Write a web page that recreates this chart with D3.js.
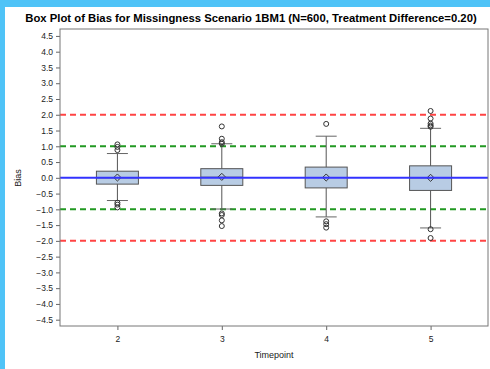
<!DOCTYPE html>
<html>
<head>
<meta charset="utf-8">
<script src="https://cdn.jsdelivr.net/npm/d3@7"></script>
<style>
  html, body { margin: 0; padding: 0; background: #4fc3f7; }
  #container { width: 490px; height: 369px; overflow: hidden; }
  svg { display: block; }
</style>
</head>
<body>
<div id="container"></div>
<script>
/* DATA */
const timepoints = [2, 3, 4, 5];
const q1 = [-0.20, -0.24, -0.32, -0.40];
const medians = [0.00, 0.02, 0.01, 0.00];
const q3 = [0.21, 0.29, 0.34, 0.38];
const means = [0.01, 0.03, 0.01, 0.00];
const whiskerLow = [-0.72, -0.99, -1.24, -1.59];
const whiskerHigh = [0.77, 1.08, 1.32, 1.57];
const outliers = [
  [1.06, 0.98, 0.88, -0.79, -0.85, -0.94],
  [1.63, 1.24, 1.13, 1.08, -1.13, -1.18, -1.35, -1.53],
  [1.71, -1.38, -1.47, -1.58],
  [2.12, 1.88, 1.72, 1.66, 1.62, -1.63, -1.91]
];
const yTicks = [4.5, 4.0, 3.5, 3.0, 2.5, 2.0, 1.5, 1.0, 0.5, 0.0, -0.5, -1.0, -1.5, -2.0, -2.5, -3.0, -3.5, -4.0, -4.5];
const refLines = [
  { value: 2, color: "#ff4444", dash: "6,4" },
  { value: -2, color: "#ff4444", dash: "6,4" },
  { value: 1, color: "#229922", dash: "6,4" },
  { value: -1, color: "#229922", dash: "6,4" }
];

/* CONSTANTS */
const width = 490,
  height = 369,
  margin = { top: 29, bottom: 43, left: 60, right: 2 },
  boxWidth = 42,
  font = "Liberation Sans, Arial, sans-serif";

const svg = d3.select("#container")
  .append("svg")
  .attr("width", width)
  .attr("height", height);

// white page with blue strip on top/left
svg.append("rect")
  .attr("x", 5).attr("y", 7)
  .attr("width", width - 5).attr("height", height - 7)
  .attr("fill", "white");

// + SCALES
const xScale = d3.scaleLinear()
  .domain([1.45, 5.55])
  .range([margin.left, width - margin.right]);

const yScale = d3.scaleLinear()
  .domain([-4.7, 4.72])
  .range([height - margin.bottom, margin.top]);

// title
svg.append("text")
  .attr("x", 251)
  .attr("y", 22)
  .attr("text-anchor", "middle")
  .attr("font-family", font)
  .attr("font-weight", "bold")
  .attr("font-size", 11.3)
  .attr("fill", "#000")
  .text("Box Plot of Bias for Missingness Scenario 1BM1 (N=600, Treatment Difference=0.20)");

// + AXES
const yAxis = d3.axisLeft(yScale)
  .tickValues(yTicks)
  .tickFormat(d3.format(".1f"))
  .tickSize(4)
  .tickSizeOuter(0);

const xAxis = d3.axisBottom(xScale)
  .tickValues(timepoints)
  .tickFormat(d3.format("d"))
  .tickSize(4)
  .tickSizeOuter(0);

const yG = svg.append("g")
  .attr("transform", `translate(${margin.left},0)`)
  .call(yAxis);

const xG = svg.append("g")
  .attr("transform", `translate(0,${height - margin.bottom})`)
  .call(xAxis);

[yG, xG].forEach(g => {
  g.select(".domain").remove();
  g.selectAll("line").attr("stroke", "#666");
  g.selectAll("text")
    .attr("font-family", font)
    .attr("font-size", 8.5)
    .attr("fill", "#222");
});
xG.selectAll("text").attr("dy", "1.1em");

// reference lines
svg.selectAll("line.ref")
  .data(refLines)
  .join("line")
  .attr("class", "ref")
  .attr("x1", margin.left)
  .attr("x2", width - margin.right)
  .attr("y1", d => yScale(d.value))
  .attr("y2", d => yScale(d.value))
  .attr("stroke", d => d.color)
  .attr("stroke-width", 2)
  .attr("stroke-dasharray", d => d.dash);

// boxes
const boxes = svg.selectAll("g.box")
  .data(timepoints.map((t, i) => ({
    t, q1: q1[i], med: medians[i], q3: q3[i], mean: means[i],
    lo: whiskerLow[i], hi: whiskerHigh[i], out: outliers[i]
  })))
  .join("g")
  .attr("class", "box")
  .attr("transform", d => `translate(${xScale(d.t)},0)`);

// whisker stems
boxes.append("line")
  .attr("x1", 0).attr("x2", 0)
  .attr("y1", d => yScale(d.hi))
  .attr("y2", d => yScale(d.lo))
  .attr("stroke", "#555")
  .attr("stroke-width", 1);

// whisker caps
boxes.selectAll("line.cap")
  .data(d => [d.lo, d.hi])
  .join("line")
  .attr("class", "cap")
  .attr("x1", -boxWidth / 4).attr("x2", boxWidth / 4)
  .attr("y1", d => yScale(d))
  .attr("y2", d => yScale(d))
  .attr("stroke", "#666")
  .attr("stroke-width", 1);

boxes.append("rect")
  .attr("x", -boxWidth / 2)
  .attr("width", boxWidth)
  .attr("y", d => yScale(d.q3))
  .attr("height", d => yScale(d.q1) - yScale(d.q3))
  .attr("fill", "#b8cce4")
  .attr("stroke", "#555")
  .attr("stroke-width", 1);

// median
boxes.append("line")
  .attr("x1", -boxWidth / 2).attr("x2", boxWidth / 2)
  .attr("y1", d => yScale(d.med))
  .attr("y2", d => yScale(d.med))
  .attr("stroke", "#555");

// blue zero line drawn over boxes
svg.append("line")
  .attr("x1", margin.left)
  .attr("x2", width - margin.right)
  .attr("y1", yScale(0))
  .attr("y2", yScale(0))
  .attr("stroke", "#3333ff")
  .attr("stroke-width", 2);

// mean diamond
boxes.append("path")
  .attr("d", d3.symbol(d3.symbolDiamond2, 32))
  .attr("transform", d => `translate(0,${yScale(d.mean)})`)
  .attr("fill", "none")
  .attr("stroke", "#333")
  .attr("stroke-width", 1);

// outliers
boxes.selectAll("circle")
  .data(d => d.out)
  .join("circle")
  .attr("cx", 0)
  .attr("cy", d => yScale(d))
  .attr("r", 2.5)
  .attr("fill", "none")
  .attr("stroke", "#333")
  .attr("stroke-width", 1);

// frame
svg.append("rect")
  .attr("x", margin.left)
  .attr("y", margin.top)
  .attr("width", width - margin.right - margin.left)
  .attr("height", height - margin.bottom - margin.top)
  .attr("fill", "none")
  .attr("stroke", "#777")
  .attr("stroke-width", 1);

// axis labels
svg.append("text")
  .attr("x", 274)
  .attr("y", 358)
  .attr("text-anchor", "middle")
  .attr("font-family", font)
  .attr("font-size", 9)
  .attr("fill", "#222")
  .text("Timepoint");

svg.append("text")
  .attr("transform", "translate(21,178) rotate(-90)")
  .attr("text-anchor", "middle")
  .attr("font-family", font)
  .attr("font-size", 9)
  .attr("fill", "#222")
  .text("Bias");
</script>
</body>
</html>
